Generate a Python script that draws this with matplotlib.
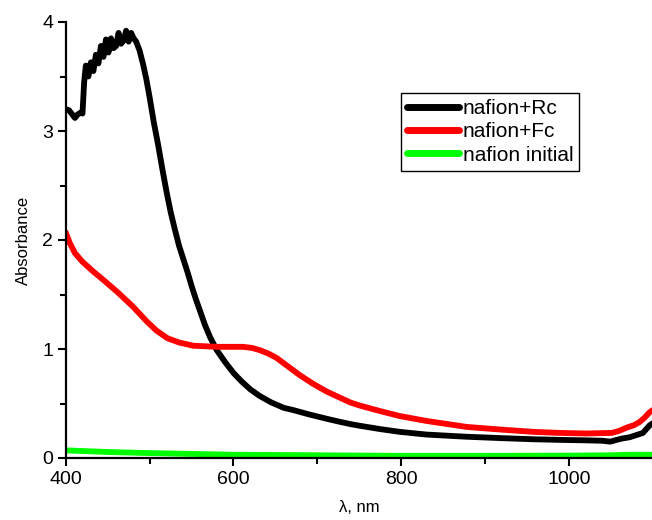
import numpy as np
import matplotlib
matplotlib.use("Agg")
import matplotlib.pyplot as plt

plt.rcParams['font.family'] = ['Liberation Sans', 'DejaVu Sans']

# nafion+Rc (black)
rc_x = [400, 404, 408, 411, 414, 418, 420, 422, 424, 427, 430, 433, 436, 439, 442, 445, 448, 451,
        454, 457, 460, 463, 466, 469, 472, 475, 478, 481, 484, 488, 492, 496, 500, 505, 510, 515,
        520, 525, 530, 535, 540, 545, 550, 555, 561, 566, 572, 580, 590, 600, 610, 620, 631, 645,
        660, 671, 690, 711, 725, 740, 751, 775, 798, 830, 878, 920, 957, 990, 1020, 1040, 1049,
        1056, 1064, 1072, 1080, 1088, 1096, 1100]
rc_y = [3.2, 3.19, 3.15, 3.12, 3.15, 3.17, 3.16, 3.45, 3.6, 3.5, 3.63, 3.55, 3.7, 3.62, 3.78, 3.68,
        3.84, 3.72, 3.85, 3.76, 3.78, 3.9, 3.8, 3.83, 3.92, 3.82, 3.9, 3.85, 3.82, 3.74, 3.62, 3.48,
        3.31, 3.08, 2.88, 2.66, 2.45, 2.26, 2.1, 1.95, 1.83, 1.71, 1.58, 1.46, 1.33, 1.22, 1.11,
        0.99, 0.88, 0.78, 0.7, 0.63, 0.57, 0.51, 0.46, 0.44, 0.4, 0.36, 0.335, 0.31, 0.295, 0.265,
        0.24, 0.215, 0.195, 0.182, 0.172, 0.166, 0.162, 0.158, 0.15, 0.165, 0.18, 0.19, 0.21, 0.23,
        0.3, 0.32]

# nafion+Fc (red)
fc_x = [400, 405, 411, 420, 433, 447, 462, 480, 497, 508, 521, 535, 552, 580, 611, 622, 631, 641,
        651, 665, 679, 695, 711, 725, 739, 751, 775, 798, 830, 878, 920, 957, 989, 1020, 1051,
        1060, 1069, 1077, 1084, 1090, 1096, 1100]
fc_y = [2.07, 1.97, 1.88, 1.8, 1.71, 1.62, 1.52, 1.39, 1.25, 1.17, 1.10, 1.06, 1.03, 1.02, 1.02,
        1.01, 0.99, 0.96, 0.92, 0.84, 0.76, 0.68, 0.61, 0.56, 0.51, 0.48, 0.43, 0.385, 0.34, 0.285,
        0.26, 0.24, 0.23, 0.225, 0.23, 0.25, 0.28, 0.3, 0.33, 0.37, 0.42, 0.44]

# nafion initial (green)
ini_x = [400, 450, 500, 600, 700, 800, 900, 1000, 1050, 1070, 1100]
ini_y = [0.07, 0.055, 0.045, 0.03, 0.025, 0.02, 0.02, 0.022, 0.025, 0.03, 0.03]

fig = plt.figure(figsize=(6.52, 5.2), dpi=100)
ax = fig.add_axes([65.7 / 652, 62 / 520, 587.3 / 652, 436 / 520])

ax.plot(rc_x, rc_y, color='black', lw=4.2, label='nafion+Rc',
        solid_capstyle='round', solid_joinstyle='round')
ax.plot(fc_x, fc_y, color='#ff0000', lw=4.2, label='nafion+Fc',
        solid_capstyle='round', solid_joinstyle='round')
ax.plot(ini_x, ini_y, color='#00ff00', lw=4.2, label='nafion initial',
        solid_capstyle='round', solid_joinstyle='round')

ax.set_xlim(400, 1100)
ax.set_ylim(0, 4)
ax.set_xticks([400, 600, 800, 1000])
ax.set_xticks([500, 700, 900, 1100], minor=True)
ax.set_yticks([0, 1, 2, 3, 4])
ax.set_yticks([0.5, 1.5, 2.5, 3.5], minor=True)

for s in ['top', 'right']:
    ax.spines[s].set_visible(False)
for s in ['left', 'bottom']:
    ax.spines[s].set_linewidth(1.6)
ax.tick_params(which='major', direction='out', length=6, width=1.5, labelsize=14, pad=3)
ax.tick_params(which='minor', direction='out', length=4, width=1.5)

ax.set_xlabel('λ, nm', fontsize=12, labelpad=9)
ax.set_ylabel('Absorbance', fontsize=12, labelpad=8)

leg = ax.legend(loc='upper left', bbox_to_anchor=(0.571, 0.837), borderaxespad=0,
                fontsize=15, handlelength=2.5, handletextpad=0.15, labelspacing=0.2,
                borderpad=0.3, fancybox=False, framealpha=1, edgecolor='black')
leg.get_frame().set_linewidth(1.0)
for line in leg.get_lines():
    line.set_linewidth(5)

fig.savefig('out.png', dpi=100)
